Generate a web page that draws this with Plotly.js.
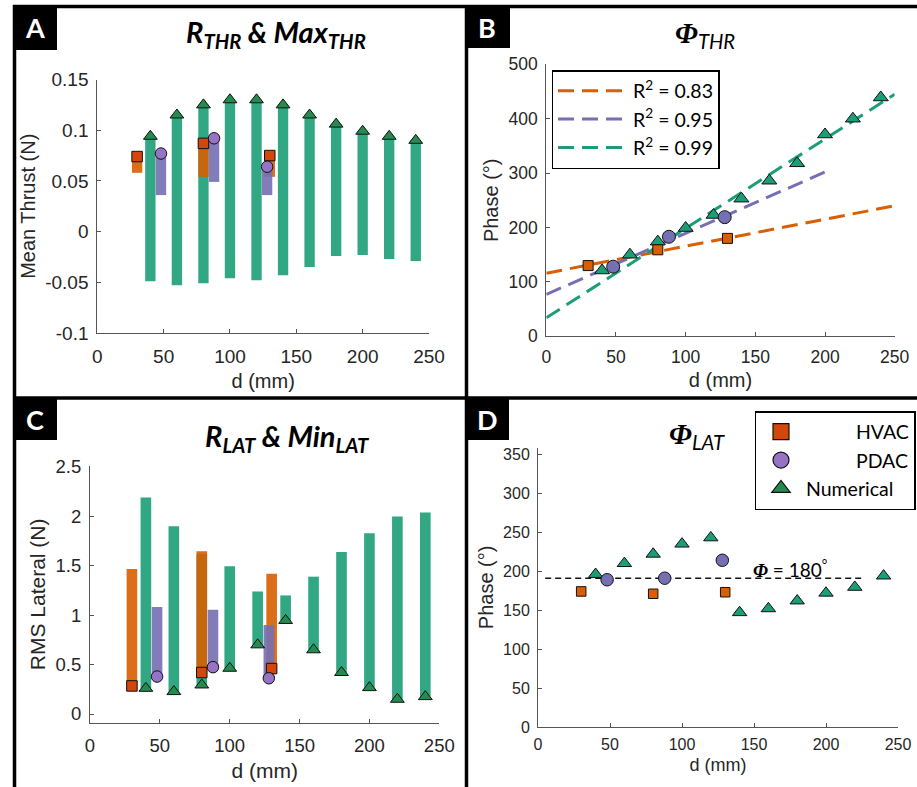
<!DOCTYPE html>
<html><head><meta charset="utf-8">
<script src="https://cdn.plot.ly/plotly-3.0.1.min.js"></script>
<style>html,body{margin:0;padding:0;background:#fff;} #chart{width:917px;height:787px;}</style>
</head><body><div id="chart"></div>
<script>
// ---------------- DATA ----------------
const dTicks = [0, 50, 100, 150, 200, 250];
const dTickText = ['0', '50', '100', '150', '200', '250'];

const numD  = [40, 60, 80, 100, 120, 140, 160, 180, 200, 220, 240];
const hvacD = [30, 80, 130];
const pdacD = [48, 88, 128];

// Panel A: mean thrust (N) ranges
const thrNumMax  = [0.094, 0.115, 0.125, 0.130, 0.130, 0.125, 0.115, 0.106, 0.099, 0.094, 0.090];
const thrNumMin  = [-0.049, -0.053, -0.051, -0.046, -0.048, -0.043, -0.035, -0.024, -0.023, -0.027, -0.029];
const thrHvacMax = [0.074, 0.087, 0.075];
const thrHvacMin = [0.058, 0.054, 0.054];
const thrPdacMax = [0.077, 0.092, 0.064];
const thrPdacMin = [0.036, 0.049, 0.036];
const thrYTicks = [-0.1, -0.05, 0, 0.05, 0.1, 0.15];
const thrYText  = ['-0.1', '-0.05', '0', '0.05', '0.1', '0.15'];

// Panel B: thrust phase (deg)
const phThrHvac = [130, 159, 180];
const phThrPdac = [128, 183, 219];
const phThrNum  = [121, 150, 174, 199, 223, 253, 286, 318, 371, 400, 439];
const fitHvacX = [0, 250], fitHvacY = [116, 240];
const fitPdacX = [0, 200], fitPdacY = [77, 302];
const fitNumX  = [0, 250], fitNumY  = [34, 445];
const fitLabels = ['R<sup>2</sup> = 0.83', 'R<sup>2</sup> = 0.95', 'R<sup>2</sup> = 0.99'];
const phThrYTicks = [0, 100, 200, 300, 400, 500];
const phThrYText  = ['0', '100', '200', '300', '400', '500'];

// Panel C: RMS lateral (N) ranges
const latNumMax  = [2.19, 1.90, 1.62, 1.495, 1.24, 1.20, 1.39, 1.64, 1.83, 2.00, 2.04];
const latNumMin  = [0.26, 0.227, 0.294, 0.463, 0.70, 0.947, 0.65, 0.42, 0.267, 0.149, 0.176];
const latHvacMax = [1.468, 1.647, 1.42];
const latHvacMin = [0.284, 0.42, 0.46];
const latPdacMax = [1.083, 1.055, 0.90];
const latPdacMin = [0.379, 0.474, 0.362];
const latYTicks = [0, 0.5, 1, 1.5, 2, 2.5];
const latYText  = ['0', '0.5', '1', '1.5', '2', '2.5'];

// Panel D: lateral phase (deg)
const phLatHvac = [174, 171, 173];
const phLatPdac = [189, 191, 214];
const phLatNum  = [196, 210, 222, 235, 243, 147, 152, 162, 172, 179.5, 194];
const refLineX = [5, 225], refLineY = [191, 191];
const phLatYTicks = [0, 50, 100, 150, 200, 250, 300, 350];
const phLatYText  = ['0', '50', '100', '150', '200', '250', '300', '350'];

const seriesNames = ['HVAC', 'PDAC', 'Numerical'];

// ---------------- STYLE ----------------
const W = 917, H = 787;
const px = v => v / W, py = v => 1 - v / H;
const C_ORANGE = '#d95f02', C_PURPLE = '#7570b3', C_GREEN = '#1b9e77';
const M_SQ = '#d4470c', M_CI = '#9673c4', M_TRI = '#238b4e';
const TICKFONT = 'Liberation Sans, Arial, sans-serif';
const CAL = 'Lato, Open Sans, sans-serif';
const NB = '\u00a0';
const padL = n => NB.repeat(n);

const diff = (a, b) => a.map((v, i) => v - b[i]);

function barTrace(x, lo, hi, color, xa, ya, w) {
  return {type: 'bar', x: x, y: diff(hi, lo), base: lo, width: w, xaxis: xa, yaxis: ya,
    marker: {color: color, line: {width: 0}}, opacity: 0.9, showlegend: false, hoverinfo: 'skip'};
}
function markerTrace(x, y, sym, color, size, xa, ya, extra) {
  return Object.assign({type: 'scatter', mode: 'markers', x: x, y: y, xaxis: xa, yaxis: ya,
    marker: {symbol: sym, color: color, size: size, line: {color: '#111', width: 1}},
    showlegend: false, cliponaxis: false}, extra || {});
}
function legendOnly(name, sym, color, rank) {
  return {type: 'scatter', mode: 'markers', x: [null], y: [null], xaxis: 'x4', yaxis: 'y4', name: name,
    marker: {symbol: sym, color: color, size: 20, line: {color: '#111', width: 1.2}},
    showlegend: true, legendrank: rank, hoverinfo: 'skip'};
}
function lineTrace(x, y, color, name, xa, ya, rank) {
  return {type: 'scatter', mode: 'lines', x: x, y: y, xaxis: xa, yaxis: ya, name: name,
    line: {color: color, width: 3, dash: '16px,8px'}, legend: 'legend2', legendrank: rank, showlegend: true};
}

const data = [
  // A
  barTrace(numD, thrNumMin, thrNumMax, C_GREEN, 'x', 'y', 7.8),
  barTrace(hvacD, thrHvacMin, thrHvacMax, C_ORANGE, 'x', 'y', 7.8),
  barTrace(pdacD, thrPdacMin, thrPdacMax, C_PURPLE, 'x', 'y', 7.8),
  markerTrace(numD, thrNumMax, 'triangle-up', M_TRI, 12, 'x', 'y'),
  markerTrace(hvacD, thrHvacMax, 'square', M_SQ, 10.5, 'x', 'y'),
  markerTrace(pdacD, thrPdacMax, 'circle', M_CI, 11.5, 'x', 'y'),
  // B
  lineTrace(fitHvacX, fitHvacY, C_ORANGE, fitLabels[0], 'x2', 'y2', 1),
  lineTrace(fitPdacX, fitPdacY, C_PURPLE, fitLabels[1], 'x2', 'y2', 2),
  lineTrace(fitNumX, fitNumY, C_GREEN, fitLabels[2], 'x2', 'y2', 3),
  markerTrace(numD, phThrNum, 'triangle-up', C_GREEN, 13, 'x2', 'y2'),
  markerTrace(hvacD, phThrHvac, 'square', C_ORANGE, 10, 'x2', 'y2'),
  markerTrace(pdacD, phThrPdac, 'circle', C_PURPLE, 13, 'x2', 'y2'),
  // C
  barTrace(numD, latNumMin, latNumMax, C_GREEN, 'x3', 'y3', 7.6),
  barTrace(hvacD, latHvacMin, latHvacMax, C_ORANGE, 'x3', 'y3', 7.6),
  barTrace(pdacD, latPdacMin, latPdacMax, C_PURPLE, 'x3', 'y3', 7.6),
  markerTrace(numD, latNumMin, 'triangle-up', M_TRI, 12, 'x3', 'y3'),
  markerTrace(hvacD, latHvacMin, 'square', M_SQ, 10.5, 'x3', 'y3'),
  markerTrace(pdacD, latPdacMin, 'circle', M_CI, 11.5, 'x3', 'y3'),
  // D
  {type: 'scatter', mode: 'lines', x: refLineX, y: refLineY, xaxis: 'x4', yaxis: 'y4',
   line: {color: '#111', width: 1.5, dash: '6px,4px'}, showlegend: false},
  markerTrace(numD, phLatNum, 'triangle-up', C_GREEN, 12.5, 'x4', 'y4'),
  markerTrace(hvacD, phLatHvac, 'square', C_ORANGE, 9.5, 'x4', 'y4'),
  markerTrace(pdacD, phLatPdac, 'circle', C_PURPLE, 12.5, 'x4', 'y4'),
  // shared legend entries
  legendOnly(padL(10) + seriesNames[0], 'square', M_SQ, 1),
  legendOnly(padL(10) + seriesNames[1], 'circle', M_CI, 2),
  legendOnly(seriesNames[2], 'triangle-up', M_TRI, 3),
];

function xAxis(domain, anchor, fs, tfs, standoff, lso) {
  return {domain: domain, anchor: anchor, range: [0, 250], tickvals: dTicks, ticktext: dTickText,
    showline: true, linecolor: '#555', linewidth: 1, ticks: 'inside', ticklen: 4, tickcolor: '#555',
    showgrid: false, zeroline: false, tickfont: {family: TICKFONT, size: fs, color: '#262626'},
    ticklabelstandoff: lso, fixedrange: true, automargin: false,
    title: {text: 'd (mm)', font: {family: TICKFONT, size: tfs, color: '#262626'}, standoff: standoff}};
}
function yAxis(domain, anchor, range, tv, tt, title, fs, tfs, standoff, lso) {
  return {domain: domain, anchor: anchor, range: range, tickvals: tv, ticktext: tt,
    showline: true, linecolor: '#555', linewidth: 1, ticks: 'inside', ticklen: 4, tickcolor: '#555',
    showgrid: false, zeroline: false, tickfont: {family: TICKFONT, size: fs, color: '#262626'},
    ticklabelstandoff: lso, fixedrange: true, automargin: false,
    title: {text: title, font: {family: TICKFONT, size: tfs, color: '#262626'}, standoff: standoff}};
}

const frame = {type: 'line', xref: 'paper', yref: 'paper', line: {color: '#000', width: 3.5}};
const box = (x0, y0, x1, y1) => ({type: 'rect', xref: 'paper', yref: 'paper', x0: px(x0), x1: px(x1), y0: py(y1), y1: py(y0),
  fillcolor: '#000', line: {width: 0}});
const shapes = [
  Object.assign({}, frame, {x0: px(13), x1: px(917), y0: py(6.5), y1: py(6.5)}),
  Object.assign({}, frame, {x0: px(14.5), x1: px(14.5), y0: py(5), y1: py(787)}),
  Object.assign({}, frame, {x0: px(466.5), x1: px(466.5), y0: py(5), y1: py(787)}),
  Object.assign({}, frame, {x0: px(13), x1: px(917), y0: py(398), y1: py(398)}),
  box(13, 5, 57, 50), box(465, 5, 510, 48), box(13, 398, 57, 440), box(465, 398, 509, 440)
];

const letter = (t, x, y) => ({text: '<b>' + t + '</b>', x: px(x), y: py(y), xref: 'paper', yref: 'paper',
  showarrow: false, xanchor: 'center', yanchor: 'middle', font: {family: CAL, size: 27, color: '#fff'}});
const PHI = '<span style="font-family:Liberation Serif">Φ</span>';
const ttl = (t, x, y) => ({text: t, x: px(x), y: py(y), xref: 'paper', yref: 'paper',
  showarrow: false, xanchor: 'center', yanchor: 'middle', font: {family: CAL, size: 29, color: '#000'}});

const annotations = [
  letter('A', 35, 28), letter('B', 487, 27), letter('C', 35, 419), letter('D', 487, 419),
  ttl('<b><i>R<sub>THR</sub> &amp; Max<sub>THR</sub></i></b>', 276, 34),
  ttl('<b><i>' + PHI + '</i></b><i><sub>THR</sub></i>', 705, 35),
  ttl('<b><i>R<sub>LAT</sub> &amp; Min<sub>LAT</sub></i></b>', 287, 437),
  ttl('<b><i>' + PHI + '</i></b><i><sub>LAT</sub></i>', 697, 436),
  {text: '<b><i>' + PHI + '</i></b> = 180<sup>°</sup>', x: 148, y: 204, xref: 'x4', yref: 'y4', showarrow: false,
   xanchor: 'left', yanchor: 'middle', font: {family: CAL, size: 19, color: '#000'}}
];

const layout = {
  width: W, height: H, margin: {l: 0, r: 0, t: 0, b: 0, autoexpand: false}, paper_bgcolor: '#fff', plot_bgcolor: 'rgba(0,0,0,0)',
  barmode: 'overlay', showlegend: true,
  xaxis:  xAxis([px(97.3), px(429)], 'y', 19, 20, 8, 6),
  yaxis:  yAxis([py(333), py(79.5)], 'x', [-0.1, 0.15], thrYTicks, thrYText, 'Mean Thrust (N)', 19, 20, 4, 4),
  xaxis2: xAxis([px(546.3), px(894.7)], 'y2', 17.5, 20, 6, 5),
  yaxis2: yAxis([py(336.3), py(64.3)], 'x2', [0, 500], phThrYTicks, phThrYText, 'Phase (°)', 17.5, 20, 4, 4),
  xaxis3: xAxis([px(90), px(439.3)], 'y3', 18.5, 21, 8, 6),
  yaxis3: yAxis([py(722.7), py(466)], 'x3', [-0.088, 2.51], latYTicks, latYText, 'RMS Lateral (N)', 18.5, 21, 4, 4),
  xaxis4: xAxis([px(538), px(898)], 'y4', 16, 18, 6, 3),
  yaxis4: yAxis([py(727), py(447.7)], 'x4', [0, 358.5], phLatYTicks, phLatYText, 'Phase (°)', 16, 20, 4, 4),
  legend: {x: px(915.5), y: py(411), xanchor: 'right', yanchor: 'top', bgcolor: '#fff', bordercolor: '#000', borderwidth: 1.5,
    font: {family: CAL, size: 19.5, color: '#000'}, itemsizing: 'trace', itemwidth: 40, tracegroupgap: 0},
  legend2: {x: px(551.5), y: py(70), xanchor: 'left', yanchor: 'top', bgcolor: '#fff', bordercolor: '#000', borderwidth: 1.5,
    font: {family: CAL, size: 19.5, color: '#000'}, itemwidth: 70, tracegroupgap: 0},
  shapes: shapes, annotations: annotations
};

Plotly.newPlot('chart', data, layout, {displayModeBar: false, staticPlot: true});
</script></body></html>
